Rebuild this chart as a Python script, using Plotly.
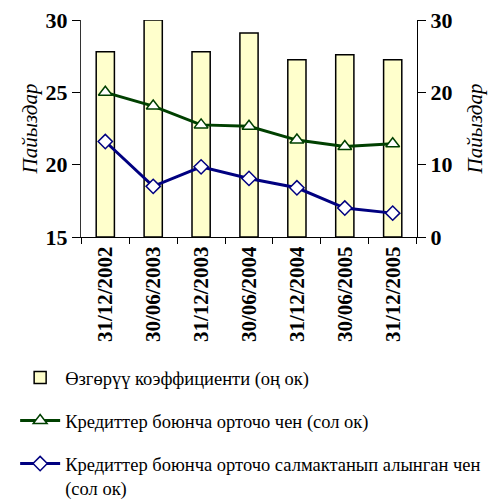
import plotly.graph_objects as go

categories = ["31/12/2002", "30/06/2003", "31/12/2003", "30/06/2004",
              "31/12/2004", "30/06/2005", "31/12/2005"]
variation_coef = [25.6, 30.0, 25.6, 28.2, 24.5, 25.2, 24.5]
avg_rate = [25.0, 24.05, 22.75, 22.65, 21.7, 21.25, 21.45]
weighted_rate = [21.6, 18.5, 19.85, 19.05, 18.4, 17.0, 16.65]

names = ["Өзгөрүү коэффициенти (оң ок)",
         "Кредиттер боюнча орточо чен (сол ок)",
         "Кредиттер боюнча орточо салмактанып алынган чен<br>(сол ок)"]

serif = "Liberation Serif"

fig = go.Figure()
fig.add_trace(go.Bar(
    x=categories, y=variation_coef, name=names[0], yaxis="y",
    marker=dict(color="#FFFFCC", line=dict(color="black", width=1.5)),
    width=0.38, legendgroup="a"))
fig.add_trace(go.Scatter(
    x=categories, y=avg_rate, name=names[1], yaxis="y2", mode="lines+markers",
    line=dict(color="#004000", width=3),
    marker=dict(symbol="triangle-up", size=12, color="white",
                line=dict(color="#004000", width=1.5)),
    legendgroup="b"))
fig.add_trace(go.Scatter(
    x=categories, y=weighted_rate, name=names[2], yaxis="y2", mode="lines+markers",
    line=dict(color="#000080", width=3),
    marker=dict(symbol="diamond", size=11, color="white",
                line=dict(color="#000080", width=1.5)),
    legendgroup="c"))

fig.update_layout(
    width=488, height=493,
    margin=dict(l=73, r=79, t=12, b=264, autoexpand=False),
    paper_bgcolor="white", plot_bgcolor="white",
    font=dict(family=serif, color="black"),
    xaxis=dict(
        type="category", showline=True, linecolor="black", linewidth=1,
        ticks="outside", ticklen=6, tickcolor="black", tickson="boundaries",
        tickangle=-90, automargin=False, ticklabeloverflow="allow",
        tickfont=dict(family=serif, size=21, color="black", weight="bold"),
        showgrid=False, zeroline=False),
    yaxis=dict(
        side="right", range=[0, 30], dtick=10, showline=True, automargin=False,
        ticklabeloverflow="allow",
        linecolor="black", linewidth=1, ticks="outside", ticklen=8,
        tickcolor="black", showgrid=False, zeroline=False,
        tickfont=dict(family=serif, size=22, color="black", weight="bold"),
        title=dict(text="Пайыздар", font=dict(family=serif, size=21,
                   style="italic", color="black"), standoff=15)),
    yaxis2=dict(
        side="left", overlaying="y", range=[15, 30], dtick=5, showline=True,
        automargin=False, ticklabeloverflow="allow",
        linecolor="#333333", linewidth=1, ticks="outside", ticklen=8,
        tickcolor="black", showgrid=False, zeroline=False,
        tickfont=dict(family=serif, size=22, color="black", weight="bold"),
        title=dict(text="Пайыздар", font=dict(family=serif, size=21,
                   style="italic", color="black"), standoff=2)),
    legend=dict(
        x=-0.196, xanchor="left", y=-0.562, yanchor="top",
        orientation="v", valign="top", tracegroupgap=16, itemwidth=40,
        font=dict(family=serif, size=18.5, color="black"),
        bgcolor="rgba(0,0,0,0)"),
    showlegend=True,
)

fig.write_html("out.html")
